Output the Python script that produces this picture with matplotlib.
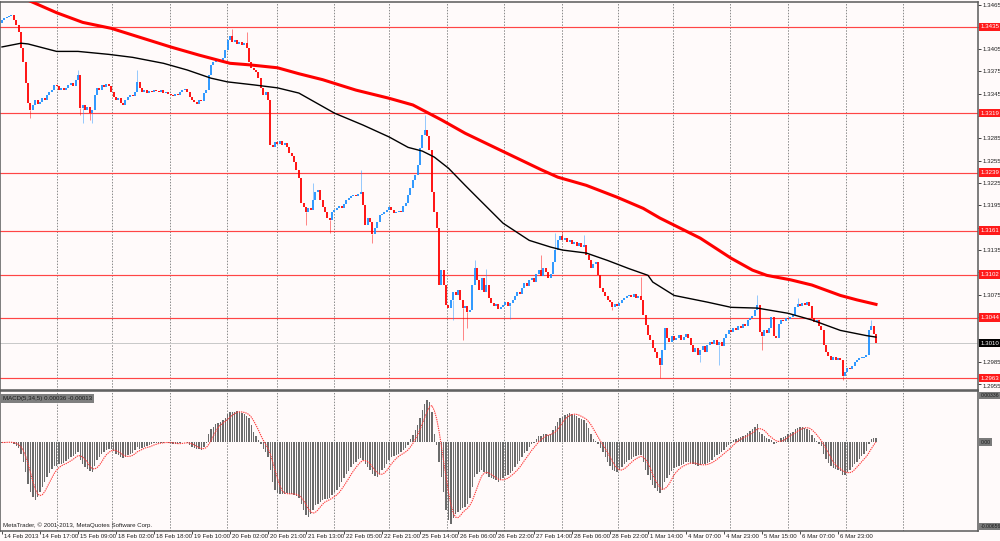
import numpy as np
import pandas as pd
import matplotlib
matplotlib.use("Agg")
import matplotlib.pyplot as plt
from matplotlib.transforms import blended_transform_factory

plt.rcParams['font.family'] = ['Liberation Sans', 'DejaVu Sans']

# EURUSD H1, one close per bar (bar 0 = 14 Feb 2013)
first_open = 1.3440
closes = [
    1.3444, 1.3447, 1.3448, 1.3450, 1.3451, 1.3444, 1.3437, 1.3428, 1.3406, 1.3388,
    1.3359, 1.3333, 1.3323, 1.3330, 1.3337, 1.3331, 1.3334, 1.3339, 1.3337, 1.3343,
    1.3347, 1.3350, 1.3357, 1.3355, 1.3350, 1.3353, 1.3350, 1.3353, 1.3357, 1.3359,
    1.3355, 1.3363, 1.3370, 1.3326, 1.3330, 1.3323, 1.3327, 1.3319, 1.3323, 1.3343,
    1.3353, 1.3350, 1.3357, 1.3354, 1.3358, 1.3355, 1.3347, 1.3341, 1.3337, 1.3339,
    1.3333, 1.3330, 1.3337, 1.3341, 1.3343, 1.3342, 1.3347, 1.3361, 1.3353, 1.3347,
    1.3350, 1.3346, 1.3349, 1.3347, 1.3350, 1.3349, 1.3347, 1.3350, 1.3346, 1.3347,
    1.3345, 1.3343, 1.3342, 1.3345, 1.3343, 1.3347, 1.3350, 1.3351, 1.3347, 1.3341,
    1.3337, 1.3334, 1.3331, 1.3337, 1.3335, 1.3346, 1.3350, 1.3370, 1.3384, 1.3388,
    1.3390, 1.3389, 1.3388, 1.3393, 1.3404, 1.3417, 1.3423, 1.3415, 1.3417, 1.3412,
    1.3415, 1.3411, 1.3413, 1.3406, 1.3388, 1.3380, 1.3377, 1.3374, 1.3366, 1.3353,
    1.3343, 1.3347, 1.3337, 1.3276, 1.3273, 1.3280, 1.3277, 1.3281, 1.3276, 1.3279,
    1.3273, 1.3265, 1.3261, 1.3253, 1.3242, 1.3232, 1.3198, 1.3193, 1.3186, 1.3191,
    1.3189, 1.3202, 1.3213, 1.3216, 1.3202, 1.3193, 1.3186, 1.3178, 1.3175, 1.3186,
    1.3189, 1.3191, 1.3194, 1.3191, 1.3197, 1.3202, 1.3205, 1.3208, 1.3209, 1.3208,
    1.3210, 1.3213, 1.3195, 1.3169, 1.3178, 1.3173, 1.3156, 1.3165, 1.3173, 1.3182,
    1.3183, 1.3186, 1.3189, 1.3193, 1.3189, 1.3185, 1.3186, 1.3187, 1.3186, 1.3194,
    1.3198, 1.3209, 1.3218, 1.3229, 1.3236, 1.3249, 1.3272, 1.3290, 1.3296, 1.3288,
    1.3269, 1.3213, 1.3186, 1.3165, 1.3088, 1.3108, 1.3088, 1.3061, 1.3057, 1.3068,
    1.3079, 1.3075, 1.3081, 1.3068, 1.3057, 1.3060, 1.3052, 1.3054, 1.3088, 1.3111,
    1.3095, 1.3081, 1.3097, 1.3079, 1.3088, 1.3071, 1.3064, 1.3060, 1.3062, 1.3056,
    1.3058, 1.3061, 1.3065, 1.3060, 1.3064, 1.3068, 1.3073, 1.3079, 1.3076, 1.3084,
    1.3091, 1.3087, 1.3095, 1.3097, 1.3092, 1.3103, 1.3108, 1.3100, 1.3111, 1.3105,
    1.3097, 1.3103, 1.3119, 1.3135, 1.3148, 1.3154, 1.3148, 1.3151, 1.3146, 1.3148,
    1.3143, 1.3146, 1.3140, 1.3144, 1.3139, 1.3142, 1.3128, 1.3122, 1.3111, 1.3116,
    1.3119, 1.3101, 1.3084, 1.3079, 1.3073, 1.3068, 1.3065, 1.3058, 1.3062, 1.3060,
    1.3064, 1.3068, 1.3071, 1.3073, 1.3075, 1.3072, 1.3076, 1.3071, 1.3073, 1.3068,
    1.3048, 1.3034, 1.3021, 1.3014, 1.3003, 1.2998, 1.2990, 1.2980, 1.3001, 1.3030,
    1.3017, 1.3011, 1.3019, 1.3014, 1.3017, 1.3021, 1.3014, 1.3018, 1.3022, 1.3017,
    1.3007, 1.2998, 1.3003, 1.2994, 1.3001, 1.3006, 1.2998, 1.3007, 1.3011, 1.3009,
    1.3014, 1.3007, 1.3011, 1.3006, 1.3017, 1.3022, 1.3027, 1.3025, 1.3030, 1.3027,
    1.3033, 1.3030, 1.3036, 1.3033, 1.3041, 1.3044, 1.3046, 1.3054, 1.3061, 1.3025,
    1.3019, 1.3027, 1.3023, 1.3030, 1.3045, 1.3019, 1.3017, 1.3036, 1.3041, 1.3040,
    1.3044, 1.3042, 1.3045, 1.3048, 1.3058, 1.3062, 1.3060, 1.3064, 1.3061, 1.3065,
    1.3060, 1.3044, 1.3038, 1.3041, 1.3033, 1.3027, 1.3007, 1.2998, 1.2992, 1.2987,
    1.2991, 1.2987, 1.2990, 1.2987, 1.2966, 1.2971, 1.2976, 1.2975, 1.2979, 1.2984,
    1.2987, 1.2990, 1.2990, 1.2991, 1.2994, 1.3027, 1.3033, 1.3022, 1.3010,
]

# the shadows that stand out
wick_high = {32: 1.3377, 57: 1.3377, 97: 1.3432, 103: 1.3428, 131: 1.3225, 151: 1.3243,
             178: 1.3316, 199: 1.3121, 204: 1.3110, 227: 1.3128, 233: 1.3158, 236: 1.3159,
             245: 1.3155, 269: 1.3099, 318: 1.3075, 335: 1.3070, 366: 1.3041}
wick_low = {12: 1.3312, 33: 1.3316, 34: 1.3306, 37: 1.3310, 38: 1.3306, 128: 1.3168,
            138: 1.3158, 156: 1.3144, 190: 1.3041, 194: 1.3014, 196: 1.3030, 214: 1.3043,
            257: 1.3054, 277: 1.2963, 294: 1.2985, 302: 1.2980, 320: 1.3000, 354: 1.2961}

# moving averages, sampled along the drawn lines
ma_fast_bar = [0, 8, 11, 23, 32, 45, 55, 68, 78, 88, 95, 106, 116, 125, 140, 152, 163,
               171, 177, 182, 188, 195, 200, 211, 222, 231, 236, 246, 255, 264, 272,
               274, 283, 297, 307, 318, 331, 341, 353, 364, 368]
ma_fast = [1.3408, 1.3413, 1.3412, 1.3402, 1.3402, 1.3398, 1.3394, 1.3386, 1.3377, 1.3366,
           1.3361, 1.3357, 1.3353, 1.3346, 1.3319, 1.3303, 1.3287, 1.3273, 1.3268, 1.3260,
           1.3245, 1.3222, 1.3206, 1.3171, 1.3148, 1.3139, 1.3135, 1.3131, 1.3121, 1.3110,
           1.3101, 1.3092, 1.3074, 1.3065, 1.3058, 1.3057, 1.3050, 1.3041, 1.3027, 1.3020,
           1.3018]
ma_slow_bar = [0, 13, 23, 34, 46, 58, 71, 83, 96, 104, 116, 125, 135, 149, 163, 173, 179,
               185, 195, 210, 227, 234, 246, 259, 270, 277, 294, 307, 316, 322, 332, 341,
               353, 360, 368]
ma_slow = [1.3486, 1.3468, 1.3454, 1.3441, 1.3433, 1.3421, 1.3408, 1.3397, 1.3386, 1.3384,
           1.3380, 1.3372, 1.3364, 1.3350, 1.3339, 1.3330, 1.3320, 1.3310, 1.3292, 1.3269,
           1.3243, 1.3233, 1.3222, 1.3206, 1.3191, 1.3178, 1.3151, 1.3124, 1.3108, 1.3101,
           1.3095, 1.3088, 1.3074, 1.3068, 1.3062]

levels = [1.3435, 1.3319, 1.3239, 1.3161, 1.3102, 1.3044, 1.2963]
bid = 1.3010

# MACD(5,34,5) main line in points (1e-5)
macd_pts = [
    -4, -4, 0, 0, -4, -16, -32, -48, -96, -160,
    -240, -336, -400, -440, -464, -440, -400, -360, -320, -280,
    -248, -216, -192, -192, -176, -176, -168, -152, -136, -120,
    -112, -96, -80, -144, -176, -200, -216, -232, -240, -192,
    -144, -120, -96, -80, -64, -56, -56, -72, -96, -104,
    -120, -128, -120, -104, -96, -88, -64, -40, -56, -48,
    -40, -32, -24, -16, -8, -8, -4, -8, -4, 4,
    -8, -8, -16, -16, -16, -8, 0, 0, -8, -24,
    -40, -48, -56, -56, -64, -40, -8, 64, 104, 120,
    144, 152, 160, 176, 192, 224, 240, 240, 240, 248,
    240, 232, 224, 208, 192, 136, 80, 48, 16, -16,
    -56, -80, -120, -224, -320, -384, -408, -416, -416, -416,
    -408, -416, -416, -424, -432, -448, -496, -544, -584, -600,
    -576, -544, -504, -496, -480, -464, -456, -456, -448, -424,
    -400, -384, -360, -320, -288, -256, -232, -200, -176, -160,
    -136, -128, -144, -176, -200, -224, -256, -272, -280, -256,
    -224, -208, -176, -144, -120, -112, -104, -96, -80, -64,
    -48, -24, 24, 56, 96, 136, 192, 256, 304, 336,
    320, 240, 64, -24, -160, -280, -400, -544, -624, -656,
    -608, -576, -560, -544, -528, -520, -496, -448, -360, -280,
    -256, -240, -224, -240, -256, -280, -288, -296, -304, -320,
    -304, -288, -272, -264, -248, -232, -200, -176, -152, -120,
    -88, -72, -40, -16, -8, 24, 48, 48, 64, 64,
    56, 64, 96, 128, 160, 192, 200, 216, 224, 232,
    224, 216, 208, 192, 184, 176, 152, 112, 64, 24,
    8, -16, -48, -80, -120, -160, -192, -224, -232, -240,
    -224, -200, -176, -160, -144, -136, -120, -112, -104, -104,
    -160, -224, -264, -304, -344, -368, -392, -408, -384, -320,
    -288, -264, -232, -208, -200, -192, -184, -176, -160, -160,
    -168, -176, -184, -192, -184, -176, -176, -168, -160, -144,
    -120, -104, -96, -80, -64, -40, -24, -8, 16, 24,
    32, 40, 48, 56, 72, 88, 104, 120, 144, 80,
    64, 48, 32, 24, 16, -16, -8, 8, 32, 40,
    48, 64, 72, 80, 104, 112, 120, 120, 112, 104,
    96, 56, 32, 8, -16, -32, -96, -136, -168, -192,
    -208, -216, -224, -232, -264, -264, -240, -224, -200, -176,
    -160, -136, -112, -96, -72, -16, 24, 32, 36,
]
macd_title = 'MACD(5,34,5) 0.00036 -0.00013'

date_labels = ['14 Feb 2013', '14 Feb 17:00', '15 Feb 09:00', '18 Feb 02:00', '18 Feb 18:00',
               '19 Feb 10:00', '20 Feb 02:00', '20 Feb 21:00', '21 Feb 13:00', '22 Feb 05:00',
               '22 Feb 21:00', '25 Feb 14:00', '26 Feb 06:00', '26 Feb 22:00', '27 Feb 14:00',
               '28 Feb 06:00', '28 Feb 22:00', '1 Mar 14:00', '4 Mar 07:00', '4 Mar 23:00',
               '5 Mar 15:00', '6 Mar 07:00', '6 Mar 23:00']
label_step = 16
grid_bars = [23.2, 46.3, 70.7, 94.7, 115.8, 139.8, 162.9, 187.4, 211.4, 235.8,
             259.4, 282.5, 306.5, 330.9, 355.4, 379.4]

# ---- figure ----
W, H = 1000, 541
BG = '#fffafa'
FS = 4.4
BLUE = '#1e90ff'
RED = '#ff0000'
GRID = '#8a8a8a'
SPINE = '#5a5a5a'

fig = plt.figure(figsize=(W / 100, H / 100), dpi=100, facecolor=BG)


def px_axes(left, top, right, bottom):
    return fig.add_axes([left / W, 1 - bottom / H, (right - left) / W, (bottom - top) / H])


ax = px_axes(0, 2, 978, 390)
axm = px_axes(0, 391, 978, 531)

n = len(closes)
bars = np.arange(n)
xlim = (-2 / 2.375, 976 / 2.375)

for a in (ax, axm):
    a.set_facecolor(BG)
    a.set_xlim(*xlim)
    for s in a.spines.values():
        s.set_color(SPINE)
        s.set_linewidth(1.1)
    for g in grid_bars:
        a.axvline(g, color=GRID, lw=0.7, ls=(0, (1.5, 1.5)), zorder=1)

# ---- price panel ----
ax.set_ylim(1.29469, 1.34684)
ax.set_xticks([])

c = np.array(closes)
o = np.array([first_open] + closes[:-1])
up = c >= o
lo = np.minimum(o, c)
hi = np.maximum(np.maximum(o, c), lo + 0.00012)

for lv in levels:
    ax.axhline(lv, color='#ff4545', lw=0.85, zorder=2)
ax.axhline(bid, color='#c8c8c8', lw=0.7, zorder=2)

for b, h in wick_high.items():
    ax.vlines(b, hi[b], h, color=BLUE if up[b] else RED, lw=0.6, alpha=0.55, zorder=3)
for b, l in wick_low.items():
    ax.vlines(b, l, lo[b], color=BLUE if up[b] else RED, lw=0.6, alpha=0.55, zorder=3)

ax.vlines(bars[up], lo[up], hi[up], color=BLUE, lw=1.3, capstyle='butt', zorder=4)
ax.vlines(bars[~up], lo[~up], hi[~up], color=RED, lw=1.3, capstyle='butt', zorder=4)

ax.plot(ma_slow_bar, ma_slow, color=RED, lw=2.2, solid_joinstyle='round', zorder=5)
ax.plot(ma_fast_bar, ma_fast, color='black', lw=1.0, solid_joinstyle='round', zorder=5)

# right price scale; labels that sit under a tag are left blank
yt = np.round(np.arange(1.2955, 1.34661, 0.0030), 4)
tags = levels + [bid]
ytl = ['' if min(abs(v - t) for t in tags) < 0.00055 else f'{v:.4f}' for v in yt]
ax.yaxis.tick_right()
ax.set_yticks(yt)
ax.set_yticklabels(ytl)
ax.tick_params(axis='y', length=2, width=0.6, pad=1.5, labelsize=FS,
               colors='#202020')
for lab in ax.get_yticklabels():
    if lab.get_text() == '1.2955':
        lab.set_va('top')


def price_tag(a, y, text, fc, tc, coords='data', va='center', dy=0, fs=FS, pad=0.3):
    a.annotate(text, xy=(1, y), xycoords=('axes fraction', coords),
               xytext=(2.5, dy), textcoords='offset pixels', ha='left', va=va,
               fontsize=fs, color=tc, zorder=10, annotation_clip=False,
               bbox=dict(boxstyle=f'square,pad={pad}', fc=fc, ec='none'))


for lv in levels:
    price_tag(ax, lv, f'{lv:.4f}', '#ff1a1a', 'white')
price_tag(ax, bid, f'{bid:.4f}', 'black', 'white')

# ---- MACD panel ----
macd = np.array(macd_pts) * 1e-5
signal = pd.Series(macd).rolling(5, min_periods=1).mean()

axm.set_ylim(-0.00712, 0.00408)
axm.set_yticks([])
axm.bar(bars, macd, width=0.62, color='#6b6b6b', zorder=3)
axm.plot(bars, signal, color='#ff3b3b', lw=0.8, ls=(0, (1.2, 0.8)), zorder=4)

MFS = 3.7
price_tag(axm, 1, f'{macd.max():.5f}', '#7a7a7a', '#1a1a1a', coords='axes fraction',
          va='top', dy=-2, fs=MFS, pad=0.2)
price_tag(axm, 0, '0.00', '#7a7a7a', '#1a1a1a', fs=MFS, pad=0.2)
price_tag(axm, 0, f'{macd.min():.5f}', '#7a7a7a', '#1a1a1a', coords='axes fraction',
          va='bottom', dy=2, fs=MFS, pad=0.2)

axm.text(3 / 978, 1 - 5 / 140, macd_title, transform=axm.transAxes, fontsize=FS,
         color='#1a1a1a', ha='left', va='top', zorder=10,
         bbox=dict(boxstyle='square,pad=0.25', fc='#7f7f7f', ec='none'))
axm.text(3 / 978, 3 / 140, 'MetaTrader, \u00a9 2001-2013, MetaQuotes Software Corp.',
         transform=axm.transAxes, fontsize=FS, color='#202020', ha='left', va='bottom',
         zorder=10)

tick_bars = [k * label_step for k in range(len(date_labels))]
axm.set_xticks(tick_bars)
axm.set_xticklabels([])
axm.tick_params(axis='x', length=2.5, width=0.6, colors='#303030')
tr = blended_transform_factory(axm.transData, axm.transAxes)
for b, lab in zip(tick_bars, date_labels):
    axm.annotate(lab, xy=(b, 0), xycoords=tr, xytext=(2, -2.5), textcoords='offset pixels',
                 ha='left', va='top', fontsize=FS, color='#202020', annotation_clip=False)

fig.savefig('out.png', dpi=100, facecolor=BG)
